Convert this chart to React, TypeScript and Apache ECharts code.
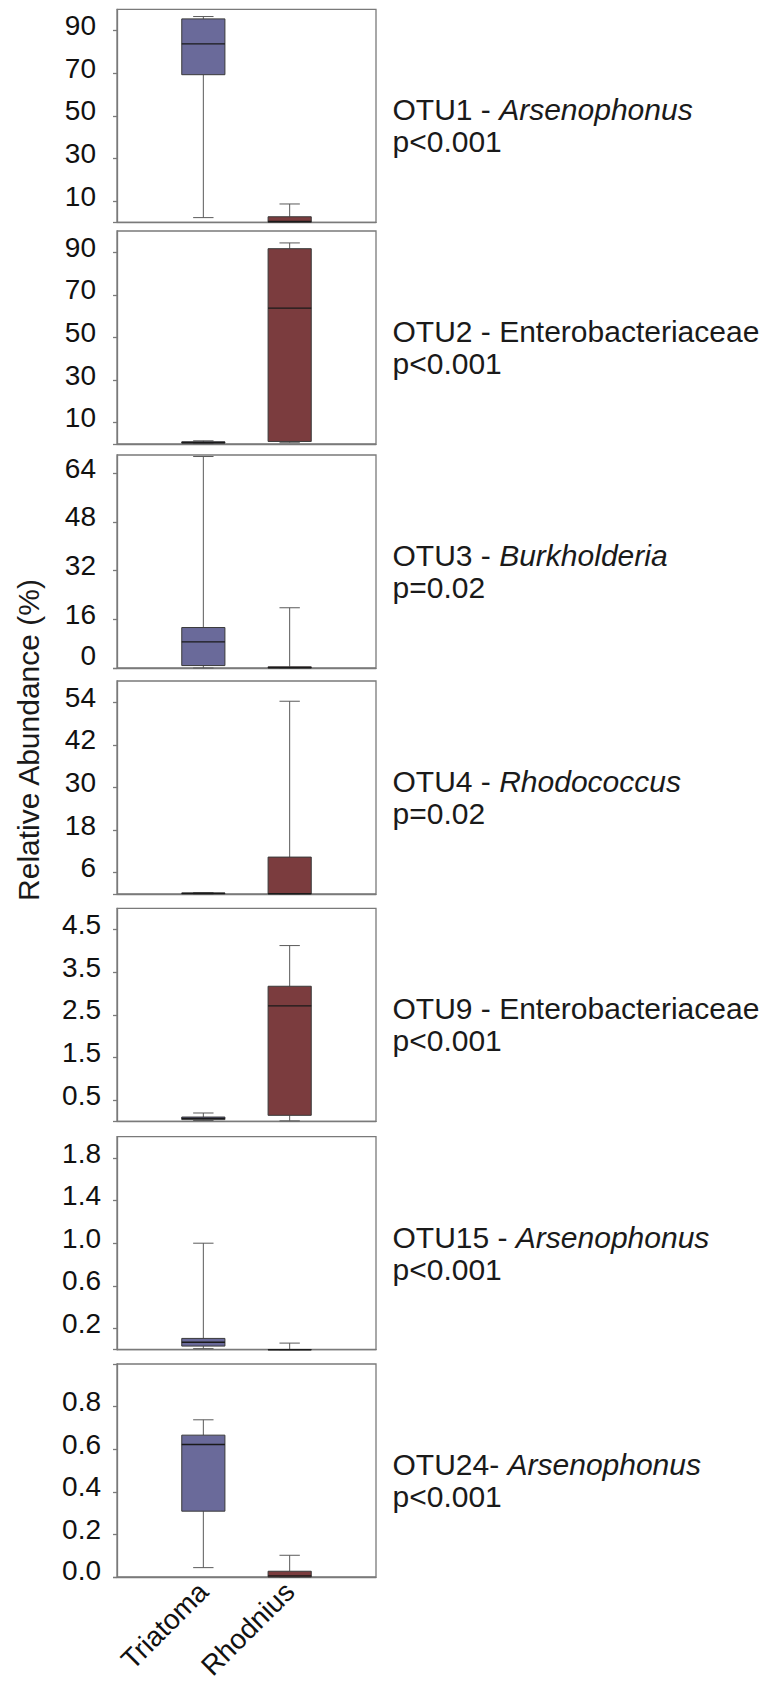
import React, { useEffect, useRef } from 'react';
import * as echarts from 'echarts';

// ---------- data ----------
const categories = ['Triatoma', 'Rhodnius'];
const otuLabels = ['OTU1 - ', 'OTU2 - ', 'OTU3 - ', 'OTU4 - ', 'OTU9 - ', 'OTU15 - ', 'OTU24- '];
const taxa = ['Arsenophonus', 'Enterobacteriaceae', 'Burkholderia', 'Rhodococcus', 'Enterobacteriaceae', 'Arsenophonus', 'Arsenophonus'];
const taxaItalic = [true, false, true, true, false, true, true];
const pValues = ['p<0.001', 'p<0.001', 'p=0.02', 'p=0.02', 'p<0.001', 'p<0.001', 'p<0.001'];
const yTitle = 'Relative Abundance (%)';

// [min, q1, median, q3, max]
const triatomaStats = [
  [2.2, 69.3, 83.8, 95.5, 96.6],
  [0.2, 0.4, 0.7, 1.0, 1.5],
  [0, 0.8, 8.6, 13.3, 69.5],
  [0, 0.05, 0.15, 0.3, 0.4],
  [0.02, 0.04, 0.07, 0.1, 0.195],
  [0.01, 0.034, 0.07, 0.106, 1.0],
  [0.044, 0.309, 0.622, 0.666, 0.738],
];
const rhodniusStats = [
  [0, 0, 0.4, 2.6, 8.6],
  [0.6, 1.2, 63.8, 91.7, 94.4],
  [0, 0, 0.1, 0.4, 19.8],
  [0, 0, 0.1, 10.4, 54.3],
  [0.01, 0.14, 2.71, 3.17, 4.125],
  [0, 0, 0, 0.002, 0.062],
  [0, 0, 0.005, 0.027, 0.102],
];

const axisMax = [100, 100, 70, 60, 5, 2, 1];
const tickValues = [
  [10, 30, 50, 70, 90],
  [10, 30, 50, 70, 90],
  [0, 16, 32, 48, 64],
  [6, 18, 30, 42, 54],
  [0.5, 1.5, 2.5, 3.5, 4.5],
  [0.2, 0.6, 1.0, 1.4, 1.8],
  [0, 0.2, 0.4, 0.6, 0.8],
];
const tickLabels = [
  ['10', '30', '50', '70', '90'],
  ['10', '30', '50', '70', '90'],
  ['0', '16', '32', '48', '64'],
  ['6', '18', '30', '42', '54'],
  ['0.5', '1.5', '2.5', '3.5', '4.5'],
  ['0.2', '0.6', '1.0', '1.4', '1.8'],
  ['0.0', '0.2', '0.4', '0.6', '0.8'],
];
const extraTicks = [[0], [0], [0], [0], [0], [0], [0, 1]];

// ---------- layout ----------
const panelTops = [9.3, 231, 455, 681, 908.3, 1136.7, 1364];
const panelHeight = 213;
const panelLeft = 117;
const panelWidth = 259;
const labelMargins = [21, 21, 21, 21, 16, 16, 16];
const liftedLabel: Record<number, string> = { 2: '0', 6: '0.0' };

const FONT = '"Liberation Sans", Arial, Helvetica, sans-serif';
const fills = ['#6a6a9a', '#7b3c3e'];

const renderBox = (params: any, api: any) => {
  const xi = api.value(0);
  const mn = api.value(1);
  const q1 = api.value(2);
  const md = api.value(3);
  const q3 = api.value(4);
  const mx = api.value(5);
  const c0 = api.coord([xi, mn]);
  const cq1 = api.coord([xi, q1]);
  const cmd = api.coord([xi, md]);
  const cq3 = api.coord([xi, q3]);
  const cmx = api.coord([xi, mx]);
  const unit = api.coord([xi + 1, mn])[0] - c0[0];
  const hw = unit * 0.25;
  const cw = unit * 0.118;
  const x = c0[0];
  const wStyle = { stroke: '#5a5a5a', lineWidth: 1 };
  return {
    type: 'group',
    children: [
      { type: 'line', shape: { x1: x, y1: cmx[1], x2: x, y2: cq3[1] }, style: wStyle },
      { type: 'line', shape: { x1: x, y1: cq1[1], x2: x, y2: c0[1] }, style: wStyle },
      { type: 'line', shape: { x1: x - cw, y1: cmx[1], x2: x + cw, y2: cmx[1] }, style: wStyle },
      { type: 'line', shape: { x1: x - cw, y1: c0[1], x2: x + cw, y2: c0[1] }, style: wStyle },
      {
        type: 'rect',
        shape: { x: x - hw, y: cq3[1], width: 2 * hw, height: Math.max(cq1[1] - cq3[1], 0.5) },
        style: { fill: fills[xi - 1], stroke: '#3a3a3a', lineWidth: 1 },
      },
      { type: 'line', shape: { x1: x - hw, y1: cmd[1], x2: x + hw, y2: cmd[1] }, style: { stroke: '#1a1a1a', lineWidth: 1.3 } },
    ],
  };
};

export default function App() {
  const ref = useRef<HTMLDivElement>(null);
  useEffect(() => {
    if (!ref.current) return;
    const chart = echarts.init(ref.current, undefined, { renderer: 'svg' });
    const n = panelTops.length;
    const grid: any[] = [];
    const xAxis: any[] = [];
    const yAxis: any[] = [];
    const series: any[] = [];
    const graphic: any[] = [];
    for (let i = 0; i < n; i++) {
      grid.push({
        left: panelLeft,
        top: panelTops[i],
        width: panelWidth,
        height: panelHeight,
        show: true,
        borderColor: '#7a7a7a',
        borderWidth: 1.3,
        backgroundColor: 'transparent',
        containLabel: false,
        outerBoundsMode: 'none',
      });
      const last = i === n - 1;
      xAxis.push({
        type: 'value',
        gridIndex: i,
        min: 0,
        max: 3,
        axisLine: { show: true, onZero: false, lineStyle: { color: '#7a7a7a', width: 1.3 } },
        axisTick: { show: false },
        splitLine: { show: false },
        axisLabel: last
          ? {
              show: true,
              customValues: [1, 2],
              formatter: (v: number) => categories[Math.round(v) - 1] || '',
              rotate: 45,
              margin: 10,
              fontSize: 28,
              fontFamily: FONT,
              color: '#111',
            }
          : { show: false },
      });
      const labels = tickLabels[i];
      const vals = tickValues[i];
      yAxis.push({
        type: 'value',
        gridIndex: i,
        min: 0,
        max: axisMax[i],
        axisLine: { show: true, lineStyle: { color: '#7a7a7a', width: 1.3 } },
        axisTick: {
          show: true,
          length: 4,
          customValues: [...extraTicks[i], ...vals],
          lineStyle: { color: '#7a7a7a', width: 1.3 },
        },
        splitLine: { show: false },
        axisLabel: {
          show: true,
          customValues: vals,
          margin: labelMargins[i],
          formatter: (v: number) => {
            let k = 0;
            let best = Infinity;
            vals.forEach((t, j) => {
              const d = Math.abs(t - v);
              if (d < best) { best = d; k = j; }
            });
            const s = labels[k];
            return liftedLabel[i] === s ? `{z|${s}}` : `{a|${s}}`;
          },
          rich: {
            a: { fontSize: 28, fontFamily: FONT, color: '#111', padding: [0, 0, 10, 0] },
            z: { fontSize: 28, fontFamily: FONT, color: '#111', padding: [0, 0, i === 2 ? 26 : 14, 0] },
          },
        },
      });
      series.push({
        type: 'custom',
        xAxisIndex: i,
        yAxisIndex: i,
        renderItem: renderBox,
        data: [
          [1, ...triatomaStats[i]],
          [2, ...rhodniusStats[i]],
        ],
        clip: false,
      });
      const cy = panelTops[i] + panelHeight / 2;
      graphic.push({
        type: 'text',
        x: 392.5,
        y: cy - 6,
        style: {
          text: `{n|${otuLabels[i]}}{${taxaItalic[i] ? 'i' : 'n'}|${taxa[i]}}`,
          rich: {
            n: { fontSize: 30, fontFamily: FONT, fill: '#1a1a1a' },
            i: { fontSize: 30, fontFamily: FONT, fontStyle: 'italic', fill: '#1a1a1a' },
          },
          verticalAlign: 'middle',
          align: 'left',
        },
      });
      graphic.push({
        type: 'text',
        x: 392.5,
        y: cy + 26,
        style: {
          text: pValues[i],
          fontSize: 30,
          fontFamily: FONT,
          fill: '#1a1a1a',
          verticalAlign: 'middle',
          align: 'left',
        },
      });
    }
    graphic.push({
      type: 'text',
      x: 28,
      y: 740,
      rotation: Math.PI / 2,
      style: {
        text: yTitle,
        fontSize: 30,
        fontFamily: FONT,
        fill: '#1a1a1a',
        align: 'center',
        verticalAlign: 'middle',
      },
    });
    chart.setOption({
      animation: false,
      backgroundColor: '#ffffff',
      grid,
      xAxis,
      yAxis,
      series,
      graphic,
    });
    return () => chart.dispose();
  }, []);
  return (
    <div
      ref={ref}
      style={{ position: 'absolute', left: 0, top: 0, width: 776, height: 1682 }}
    />
  );
}
